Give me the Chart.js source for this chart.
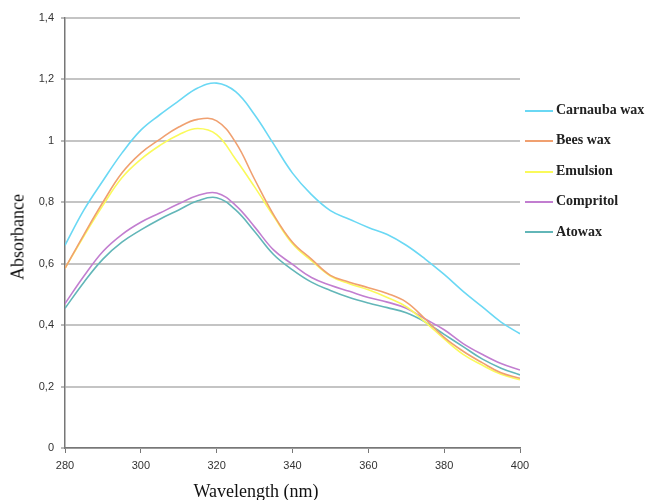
<!DOCTYPE html>
<html>
<head>
<meta charset="utf-8">
<script src="https://cdn.jsdelivr.net/npm/chart.js@4"></script>
<style>
  body { margin: 0; background: #fff; }
  #wrap { position: relative; width: 651px; height: 500px; overflow: hidden; }
  #chart { position: absolute; left: 0; top: 0; }
  .legend { position: absolute; left: 525px; font-family: "Liberation Serif", serif; font-weight: bold; font-size: 14px; color: #222; white-space: nowrap; }
  .legend span.sw { display: inline-block; width: 28px; height: 2px; vertical-align: middle; margin-right: 3px; }
  .ytitle { position: absolute; left: 18px; top: 237px; transform: translate(-50%, -50%) rotate(-90deg); font-family: "Liberation Serif", serif; font-size: 18px; color: #111; white-space: nowrap; }
  .xtitle { position: absolute; left: 256px; top: 491px; transform: translate(-50%, -50%); font-family: "Liberation Serif", serif; font-size: 18px; color: #111; white-space: nowrap; }
</style>
</head>
<body>
<div id="wrap">
  <canvas id="chart" width="651" height="500"></canvas>
  <div class="ytitle">Absorbance</div>
  <div class="xtitle">Wavelength (nm)</div>
  <div id="legend"></div>
</div>
<script>
// wavelength in nm
const wavelengths = [280, 285, 290, 295, 300, 305, 310, 315, 320, 325, 330, 335, 340,
                     345, 350, 355, 360, 365, 370, 375, 380, 385, 390, 395, 400];

const carnauba = [0.66, 0.775, 0.87, 0.96, 1.035, 1.085, 1.13, 1.172, 1.188, 1.16, 1.085, 0.99, 0.895,
                  0.825, 0.773, 0.745, 0.718, 0.695, 0.66, 0.615, 0.565, 0.51, 0.46, 0.41, 0.372];
const beesWax = [0.585, 0.695, 0.8, 0.895, 0.96, 1.005, 1.045, 1.07, 1.065, 0.995, 0.875, 0.76, 0.67,
                 0.615, 0.562, 0.54, 0.522, 0.503, 0.475, 0.42, 0.36, 0.315, 0.278, 0.245, 0.227];
const emulsion = [0.585, 0.69, 0.79, 0.88, 0.94, 0.985, 1.02, 1.04, 1.02, 0.94, 0.85, 0.755, 0.665,
                  0.61, 0.56, 0.535, 0.515, 0.49, 0.46, 0.41, 0.355, 0.305, 0.27, 0.24, 0.222];
const compritol = [0.47, 0.56, 0.64, 0.695, 0.735, 0.765, 0.795, 0.822, 0.83, 0.79, 0.72, 0.645, 0.598,
                   0.555, 0.53, 0.51, 0.49, 0.475, 0.455, 0.42, 0.385, 0.34, 0.305, 0.275, 0.254];
const atowax = [0.455, 0.54, 0.615, 0.67, 0.71, 0.745, 0.775, 0.805, 0.815, 0.775, 0.705, 0.63, 0.58,
                0.54, 0.513, 0.49, 0.472, 0.457, 0.44, 0.41, 0.37, 0.33, 0.29, 0.26, 0.238];

const seriesNames = ['Carnauba wax', 'Bees wax', 'Emulsion', 'Compritol', 'Atowax'];
const seriesValues = [carnauba, beesWax, emulsion, compritol, atowax];
const seriesColors = ['#6ad8f4', '#f0a070', '#fafa5a', '#c27ed0', '#62b6b8'];

const xTicks = [280, 300, 320, 340, 360, 380, 400];
const yTicks = [0, 0.2, 0.4, 0.6, 0.8, 1, 1.2, 1.4];

const datasets = seriesNames.map((name, i) => ({
    label: name,
    data: wavelengths.map((w, j) => ({ x: w, y: seriesValues[i][j] })),
    borderColor: seriesColors[i],
    borderWidth: 1.6,
    pointRadius: 0,
    tension: 0.4,
    fill: false
}));

// html legend
const legend = document.getElementById('legend');
seriesNames.forEach((name, i) => {
    const div = document.createElement('div');
    div.className = 'legend';
    div.style.top = (102 + i * 30.4) + 'px';
    div.innerHTML = `<span class="sw" style="background:${seriesColors[i]}"></span>${name}`;
    legend.appendChild(div);
});

new Chart(document.getElementById('chart'), {
    type: 'line',
    data: { datasets: datasets },
    options: {
        responsive: false,
        animation: false,
        layout: { padding: { left: 0, top: 18, right: 131, bottom: 0 } },
        plugins: { legend: { display: false }, tooltip: { enabled: false } },
        scales: {
            x: {
                type: 'linear',
                min: 280,
                max: 400,
                afterBuildTicks: scale => { scale.ticks = xTicks.map(v => ({ value: v })); },
                afterFit: scale => { scale.height = 52; },
                grid: { drawOnChartArea: false, drawTicks: true, tickLength: 5, color: '#777' },
                border: { color: '#777', width: 1.5 },
                ticks: {
                    color: '#333',
                    font: { family: 'Liberation Sans', size: 11 },
                    padding: 6,
                    maxRotation: 0
                }
            },
            y: {
                min: 0,
                max: 1.4,
                afterBuildTicks: scale => { scale.ticks = yTicks.map(v => ({ value: v })); },
                afterFit: scale => { scale.width = 65; },
                grid: { color: '#c4c4c4', lineWidth: 2, tickLength: 4, tickColor: '#777', tickWidth: 1 },
                border: { color: '#777', width: 1.5 },
                ticks: {
                    color: '#333',
                    font: { family: 'Liberation Sans', size: 11 },
                    padding: 7,
                    callback: v => String(v).replace('.', ',')
                }
            }
        }
    }
});
</script>
</body>
</html>
